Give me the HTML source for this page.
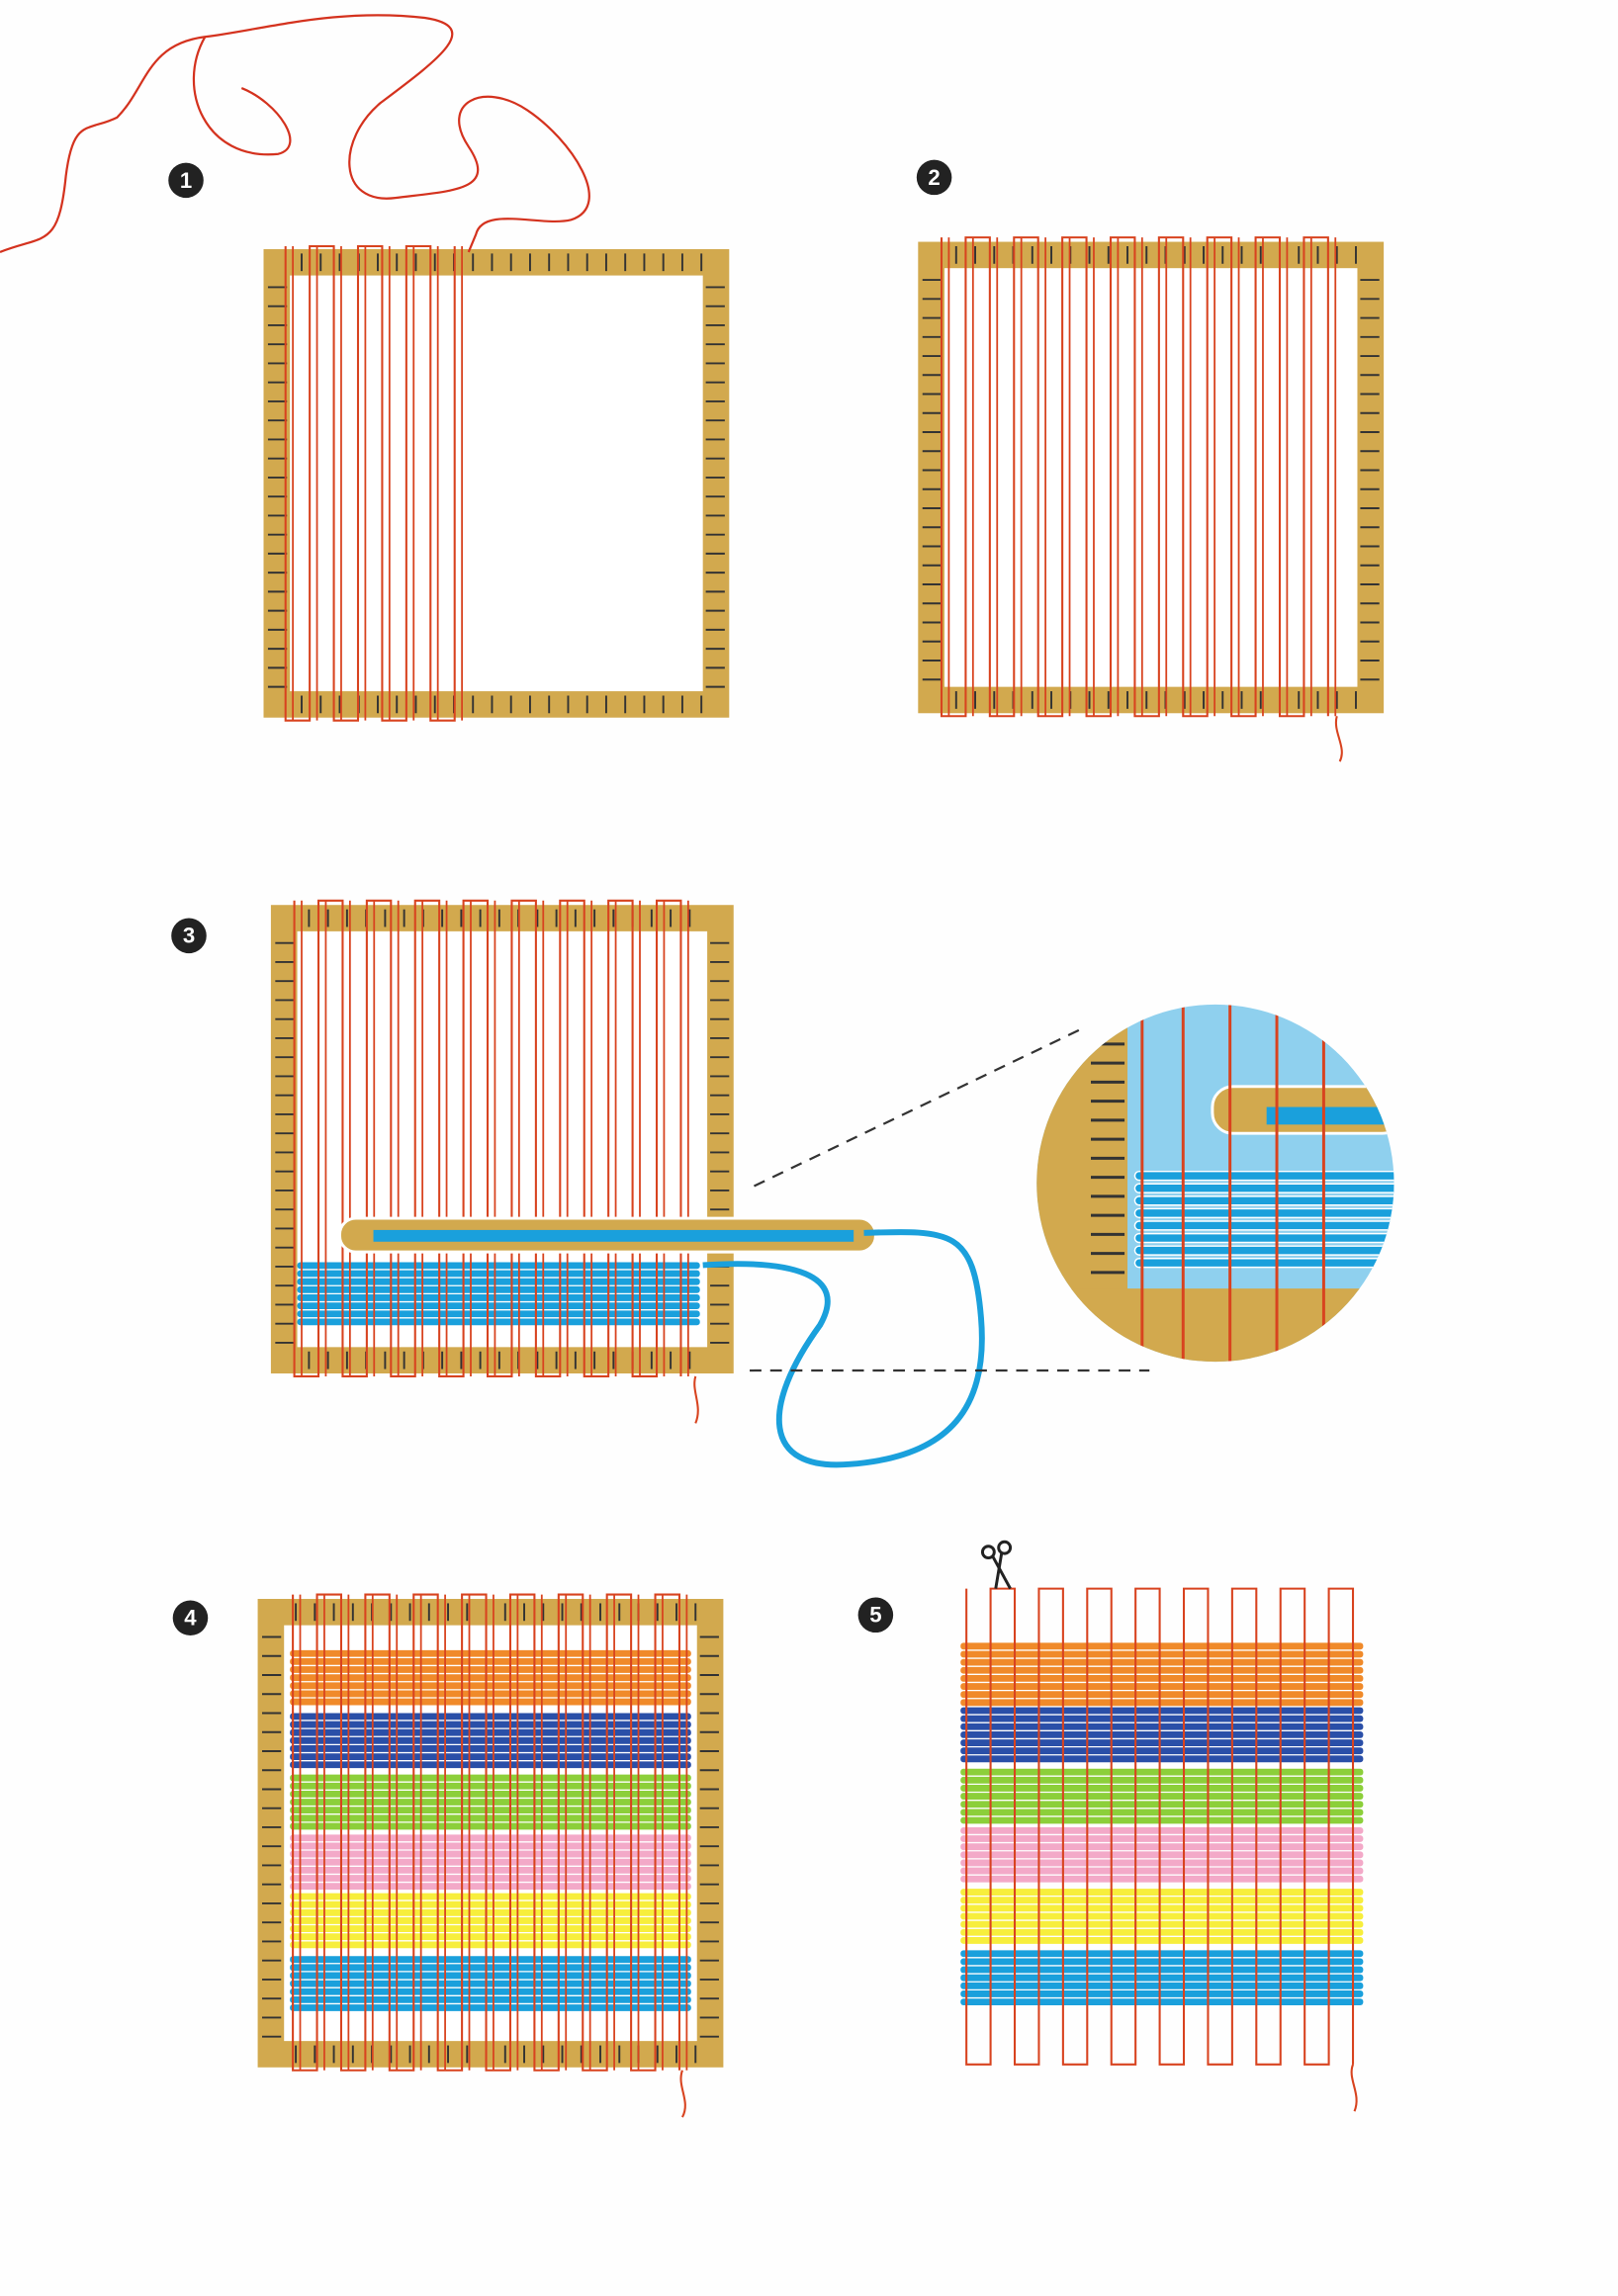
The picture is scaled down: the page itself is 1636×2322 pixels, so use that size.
<!DOCTYPE html>
<html><head><meta charset="utf-8">
<style>
html,body{margin:0;padding:0;background:#fff;}
svg{display:block}
</style></head>
<body>
<svg id="s" width="1636" height="2322" viewBox="0 0 1105 1568" xmlns="http://www.w3.org/2000/svg">
<rect width="1105" height="1568" fill="#fefefe"/>
<g id="g"></g>
<path d="M0,172 C30,160 40,170 45,120 C50,80 60,90 80,80 C100,60 100,30 140,25 C180,20 230,5 290,12 C330,18 300,40 260,70 C230,95 230,140 270,135 C310,130 340,130 320,100 C300,70 330,55 360,75 C390,95 420,140 390,150 C370,155 330,140 325,160 L320,172" fill="none" stroke="#d4321e" stroke-width="1.5"/>
<path d="M140,25 C120,60 140,110 190,105 C210,100 190,70 165,60" fill="none" stroke="#d4321e" stroke-width="1.5"/>
<path d="M480,864 C540,860 580,870 560,905 C520,960 520,1005 580,1000 C650,995 675,960 670,900 C665,840 650,840 590,842" fill="none" stroke="#1aa0dc" stroke-width="4"/>
<line x1="515" y1="810" x2="740" y2="702" stroke="#333" stroke-width="1.5" stroke-dasharray="8,6"/>
<line x1="512" y1="936" x2="785" y2="936" stroke="#333" stroke-width="1.5" stroke-dasharray="8,6"/>
<g font-family="Liberation Sans, sans-serif" font-weight="bold" font-size="15" fill="#fff" text-anchor="middle">
<circle cx="127" cy="123" r="12" fill="#222"/><text x="127" y="128">1</text>
<circle cx="638" cy="121" r="12" fill="#222"/><text x="638" y="126">2</text>
<circle cx="129" cy="639" r="12" fill="#222"/><text x="129" y="644">3</text>
<circle cx="130" cy="1105" r="12" fill="#222"/><text x="130" y="1110">4</text>
<circle cx="598" cy="1103" r="12" fill="#222"/><text x="598" y="1108">5</text>
</g>
<g stroke="#222" stroke-width="2" fill="none"><circle cx="675" cy="1060" r="4"/><circle cx="686" cy="1057" r="4"/><line x1="678" y1="1063" x2="690" y2="1085"/><line x1="684" y1="1061" x2="680" y2="1085"/></g>
</svg>
<script>
var NS="http://www.w3.org/2000/svg",g=document.getElementById('g');
function el(t,a,p){var e=document.createElementNS(NS,t);for(var k in a)e.setAttribute(k,a[k]);(p||g).appendChild(e);return e;}
var GOLD="#d2a94e",RED="#d8431f";
function frame(x,y,w,h,b){
 el('rect',{x:x,y:y,width:w,height:h,fill:GOLD});
 el('rect',{x:x+b,y:y+b,width:w-2*b,height:h-2*b,fill:"#fff"});
 for(var yy=y+b+8;yy<y+h-b;yy+=13){
  el('line',{x1:x+3,y1:yy,x2:x+b-2,y2:yy,stroke:"#333",'stroke-width':1.3});
  el('line',{x1:x+w-b+2,y1:yy,x2:x+w-3,y2:yy,stroke:"#333",'stroke-width':1.3});}
 for(var xx=x+b+8;xx<x+w-b;xx+=13){
  el('line',{x1:xx,y1:y+3,x2:xx,y2:y+b-3,stroke:"#333",'stroke-width':1.3});
  el('line',{x1:xx,y1:y+h-b+3,x2:xx,y2:y+h-3,stroke:"#333",'stroke-width':1.3});}
}
function warp(x0,n,dx,yt,yb){
 var p="M"+x0+","+yt;
 for(var i=0;i<n;i++){var x=x0+i*dx;p+=" L"+x+","+(i%2==0?yb:yt);if(i<n-1)p+=" L"+(x+dx)+","+(i%2==0?yb:yt);}
 el('path',{d:p,fill:"none",stroke:RED,'stroke-width':1.4});
 for(var i=0;i<n;i++){var x=x0+i*dx;el('line',{x1:x+5,y1:yt,x2:x+5,y2:yb,stroke:RED,'stroke-width':1.2});}
}
function stripes(x,w,list){
 list.forEach(function(s){for(var y=s[0];y<s[1]-2;y+=5.5){el('rect',{x:x,y:y,width:w,height:4.6,rx:2,fill:s[2]});}});
}
frame(180,170,318,320,18);
warp(195,8,16.5,168,492);
frame(627,165,318,322,18);
warp(643,17,16.5,162,489);
el('path',{d:"M913,489 C910,500 920,510 915,520",fill:"none",stroke:RED,'stroke-width':1.4});
frame(185,618,316,320,18);
stripes(203,275,[[862,906,"#1aa0dc"]]);
warp(201,17,16.5,615,940);
el('path',{d:"M475,940 C472,950 480,960 475,972",fill:"none",stroke:RED,'stroke-width':1.4});
el('rect',{x:232,y:832,width:366,height:23,rx:11,fill:GOLD,stroke:"#fff",'stroke-width':2});
el('rect',{x:255,y:840,width:328,height:8,fill:"#1aa0dc"});
var cp=el('clipPath',{id:'cc'});el('circle',{cx:830,cy:808,r:122},cp);
var cg=el('g',{'clip-path':'url(#cc)'});
el('rect',{x:700,y:680,width:260,height:260,fill:"#8fd0ee"},cg);
el('rect',{x:700,y:680,width:70,height:260,fill:GOLD},cg);
el('rect',{x:700,y:880,width:260,height:60,fill:GOLD},cg);
for(var yy=700;yy<880;yy+=13)el('line',{x1:745,y1:yy,x2:768,y2:yy,stroke:"#333",'stroke-width':2},cg);
for(var yy=800;yy<862;yy+=8.5)el('rect',{x:775,y:yy,width:180,height:6,rx:3,fill:"#1aa0dc",stroke:"#fff",'stroke-width':1},cg);
el('rect',{x:828,y:742,width:130,height:32,rx:14,fill:GOLD,stroke:"#fff",'stroke-width':2},cg);
el('rect',{x:865,y:756,width:90,height:12,fill:"#1aa0dc"},cg);
[780,808,840,872,904].forEach(function(x){el('line',{x1:x,y1:680,x2:x,y2:940,stroke:RED,'stroke-width':2},cg);});
frame(176,1092,318,320,18);
var ST=[[1127,1166,"#f08a2a"],[1170,1210,"#2a4fa8"],[1212,1251,"#8ccf3a"],[1253,1291,"#f3a9c8"],[1293,1333,"#f7ee3c"],[1336,1373,"#1aa0dc"]];
stripes(198,274,ST);
warp(200,17,16.5,1089,1414);
el('path',{d:"M466,1414 C462,1425 472,1435 466,1446",fill:"none",stroke:RED,'stroke-width':1.4});
var ST5=[[1122,1163,"#f08a2a"],[1166,1206,"#2a4fa8"],[1208,1246,"#8ccf3a"],[1248,1288,"#f3a9c8"],[1290,1330,"#f7ee3c"],[1332,1370,"#1aa0dc"]];
stripes(656,275,ST5);
var p="M660,1085";
for(var i=0;i<17;i++){var x=660+i*16.5;p+=" L"+x+","+(i%2==0?1410:1085);if(i<16)p+=" L"+(x+16.5)+","+(i%2==0?1410:1085);}
el('path',{d:p,fill:"none",stroke:RED,'stroke-width':1.4});
el('path',{d:"M924,1410 C920,1420 930,1430 925,1442",fill:"none",stroke:RED,'stroke-width':1.4});
</script>
</body></html>
